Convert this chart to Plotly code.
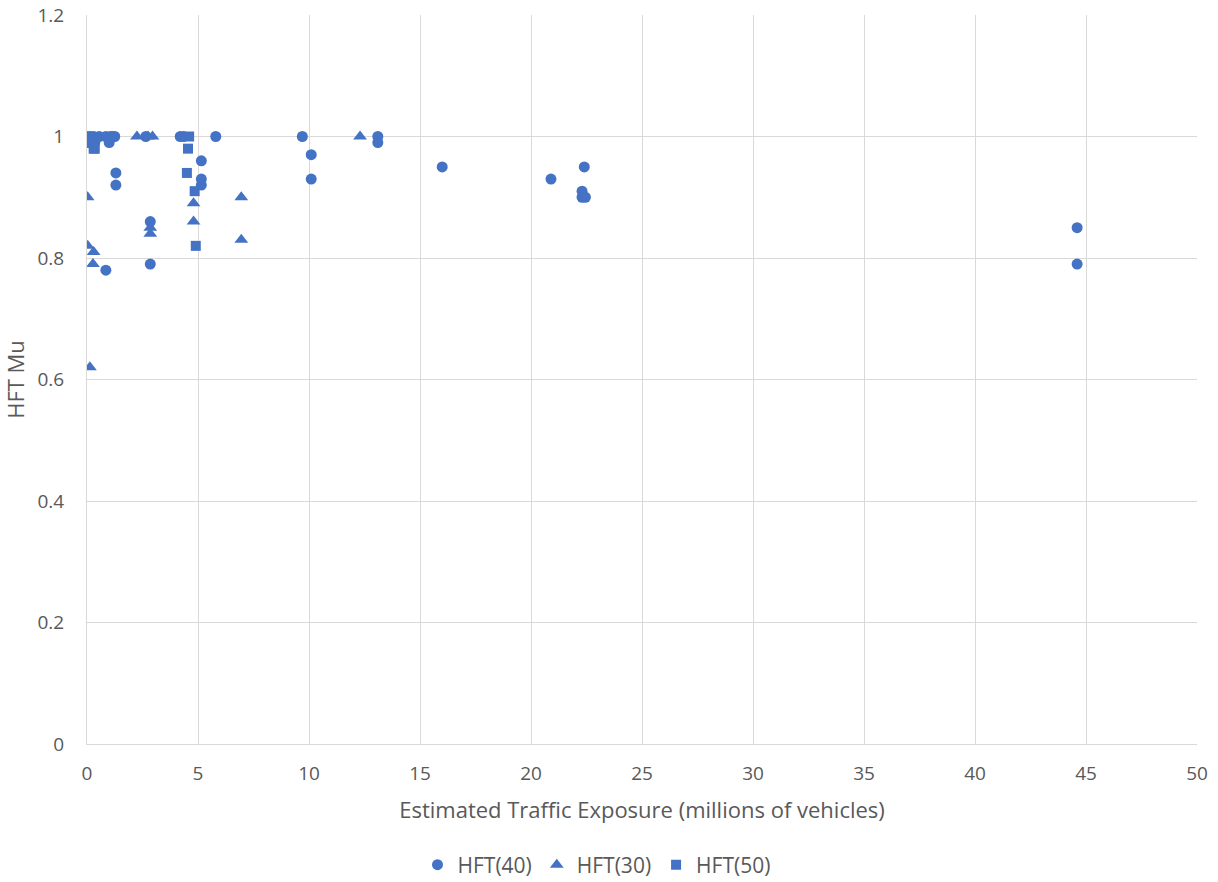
import plotly.graph_objects as go

# HFT(40) readings
hft40_x = [0.0, 0.05, 0.15, 0.3, 0.35, 0.55, 0.85, 1.0, 1.05, 1.15, 1.25, 1.3, 1.3, 0.85,
           2.65, 2.85, 2.85, 4.2, 4.35, 5.15, 5.15, 5.15, 5.8, 9.7, 10.1, 10.1,
           13.1, 13.1, 16.0, 20.9, 22.4, 22.3, 22.3, 22.45, 44.6, 44.6]
hft40_y = [1.0, 0.99, 1.0, 1.0, 0.99, 1.0, 1.0, 0.99, 1.0, 1.0, 1.0, 0.94, 0.92, 0.78,
           1.0, 0.86, 0.79, 1.0, 1.0, 0.96, 0.93, 0.92, 1.0, 1.0, 0.97, 0.93,
           1.0, 0.99, 0.95, 0.93, 0.95, 0.91, 0.90, 0.90, 0.85, 0.79]

# HFT(30) readings
hft30_x = [0.03, 0.03, 0.13, 0.3, 0.27, 2.25, 2.75, 2.95, 2.85, 2.85, 4.8, 4.8, 6.95, 6.95, 12.3]
hft30_y = [0.90, 0.82, 0.62, 0.81, 0.79, 1.0, 1.0, 1.0, 0.85, 0.84, 0.89, 0.86, 0.90, 0.83, 1.0]

# HFT(50) readings
hft50_x = [0.3, 0.35, 4.6, 4.55, 4.5, 4.85, 4.9]
hft50_y = [0.98, 0.98, 1.0, 0.98, 0.94, 0.91, 0.82]

x_ticks = [0, 5, 10, 15, 20, 25, 30, 35, 40, 45, 50]
y_ticks = [0, 0.2, 0.4, 0.6, 0.8, 1.0, 1.2]
y_tick_text = ["0", "0.2", "0.4", "0.6", "0.8", "1", "1.2"]

BLUE = "#4472C4"
FONT = "Segoe UI, Open Sans, sans-serif"
TXT = "#595959"
GRID = "#D9D9D9"

fig = go.Figure()
fig.add_trace(go.Scatter(x=hft40_x, y=hft40_y, mode="markers", name="HFT(40)",
                         marker=dict(symbol="circle", size=11, color=BLUE)))
fig.add_trace(go.Scatter(x=hft30_x, y=hft30_y, mode="markers", name="HFT(30)",
                         marker=dict(symbol="triangle-up", size=12, color=BLUE)))
fig.add_trace(go.Scatter(x=hft50_x, y=hft50_y, mode="markers", name="HFT(50)",
                         marker=dict(symbol="square", size=10, color=BLUE)))

fig.update_layout(
    width=1218, height=882,
    margin=dict(l=87, r=21, t=15, b=138, autoexpand=False),
    plot_bgcolor="white", paper_bgcolor="white",
    font=dict(family=FONT, size=19, color=TXT),
    showlegend=True,
    legend=dict(orientation="h", x=0.459, xanchor="center",
                y=-0.166, yanchor="middle",
                font=dict(size=21, color=TXT), traceorder="normal"),
    xaxis=dict(range=[0, 50], tickvals=x_ticks, showgrid=True, gridcolor=GRID, gridwidth=1,
               zeroline=False, showline=True, linecolor=GRID, linewidth=1,
               ticks="", ticklabelstandoff=12, tickfont=dict(size=19),
               title=dict(text="Estimated Traffic Exposure (millions of vehicles)",
                          font=dict(size=22, color=TXT), standoff=17)),
    yaxis=dict(range=[0, 1.2], tickvals=y_ticks, ticktext=y_tick_text, showgrid=True,
               gridcolor=GRID, gridwidth=1, zeroline=False, showline=True, linecolor=GRID,
               linewidth=1, ticks="", ticklabelstandoff=18, tickfont=dict(size=19),
               title=dict(text="HFT Mu", font=dict(size=22, color=TXT), standoff=6)),
)

fig.write_html("out.html")
